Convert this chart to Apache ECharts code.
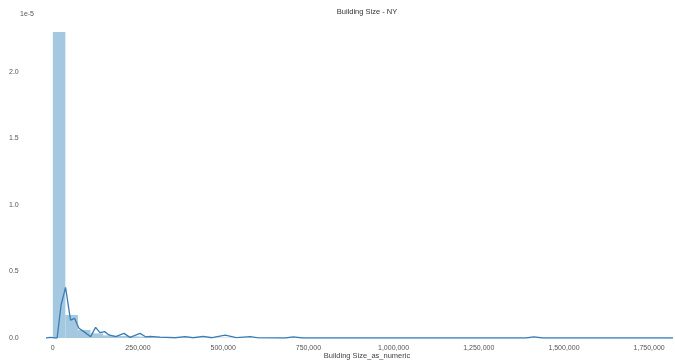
<!DOCTYPE html>
<html>
<head>
<meta charset="utf-8">
<script src="https://cdn.jsdelivr.net/npm/echarts@6/dist/echarts.min.js"></script>
<style>html,body{margin:0;padding:0;background:#fff}#c{width:675px;height:363px}</style>
</head>
<body>
<div id="c"></div>
<script>
// Histogram (density, in units of 1e-5), bin width in building-size units
const binWidth = 36800;
const binHeights = [2.30, 0.173, 0.06, 0.035, 0.02, 0.015, 0.012, 0.01, 0.008, 0.006,
  0.005, 0.004, 0.004, 0.003, 0.003, 0.003, 0.002, 0.002, 0.002, 0.002,
  0.001, 0.001, 0.001, 0.001, 0.001, 0.0, 0.0, 0.0, 0.0, 0.0,
  0.0, 0.0, 0.0, 0.0, 0.0, 0.0, 0.0, 0.0, 0.001, 0.0,
  0.0, 0.0, 0.0, 0.0, 0.0, 0.0, 0.0, 0.0, 0.0, 0.001];
// KDE curve
const kdeX = [-20000, -6000, 6000, 12600, 24400, 37400, 52000, 63800, 76500, 91200, 110900,
  125600, 138200, 152000, 164700, 184400, 208800, 226500, 255900, 273500, 285300,
  314700, 358800, 388200, 411800, 441200, 467600, 505900, 538200, 579400, 602900,
  682400, 705900, 732400, 1388200, 1411800, 1438200, 1820000];
const kdeY = [0.0, 0.004, 0.0, 0.0, 0.25, 0.38, 0.135, 0.148, 0.073, 0.048, 0.01,
  0.08, 0.04, 0.048, 0.023, 0.01, 0.035, 0.005, 0.035, 0.008, 0.012,
  0.006, 0.002, 0.01, 0.002, 0.012, 0.002, 0.022, 0.003, 0.01, 0.001,
  0.0, 0.008, 0.0, 0.0, 0.008, 0.0, 0.0];
const xTicks = [0, 250000, 500000, 750000, 1000000, 1250000, 1500000, 1750000];
const yTicks = [0, 0.5, 1.0, 1.5, 2.0];

const barData = binHeights.map((h, i) => [i * binWidth, (i + 1) * binWidth, h]);
const kdeData = kdeX.map((x, i) => [x, kdeY[i]]);

const font = 'Liberation Sans, Arial, sans-serif';
const chart = echarts.init(document.getElementById('c'), null, {renderer: 'canvas'});
chart.setOption({
  animation: false,
  backgroundColor: '#fff',
  title: [
    {text: 'Building Size - NY', left: 367, top: 8, textAlign: 'center', padding: 0,
     textStyle: {fontSize: 7.5, fontWeight: 'normal', color: '#333', fontFamily: font}},
    {text: '1e-5', left: 20, top: 11, padding: 0,
     textStyle: {fontSize: 7, fontWeight: 'normal', color: '#555', fontFamily: font}}
  ],
  grid: {left: 46, right: 2, top: 32, bottom: 25, containLabel: false, outerBoundsMode: 'none'},
  xAxis: {
    type: 'value', min: -20000, max: 1820000,
    name: 'Building Size_as_numeric', nameLocation: 'middle', nameGap: 14, nameMoveOverlap: false,
    nameTextStyle: {fontSize: 7.5, color: '#444', fontFamily: font, padding: [0, 0, 0, 15]},
    axisLine: {show: false}, axisTick: {show: false}, splitLine: {show: false},
    axisLabel: {customValues: xTicks, fontSize: 7, color: '#555', fontFamily: font, margin: 7,
      formatter: v => Number(v).toLocaleString('en-US')}
  },
  yAxis: {
    type: 'value', min: 0, max: 2.3,
    axisLine: {show: false}, axisTick: {show: false}, splitLine: {show: false},
    axisLabel: {customValues: yTicks, fontSize: 7, color: '#555', fontFamily: font,
      align: 'left', margin: 37,
      formatter: v => Number(v).toFixed(1)}
  },
  series: [
    {
      type: 'custom', data: barData, clip: true,
      encode: {x: [0, 1], y: 2},
      renderItem: (params, api) => {
        const p0 = api.coord([api.value(0), api.value(2)]);
        const p1 = api.coord([api.value(1), 0]);
        return {type: 'rect',
          shape: {x: p0[0], y: p0[1], width: p1[0] - p0[0], height: p1[1] - p0[1]},
          style: {fill: '#a5c8e1'}};
      }
    },
    {
      type: 'line', data: kdeData, showSymbol: false, smooth: false, clip: true,
      lineStyle: {color: '#3a7db5', width: 1.3}
    }
  ]
});
</script>
</body>
</html>
